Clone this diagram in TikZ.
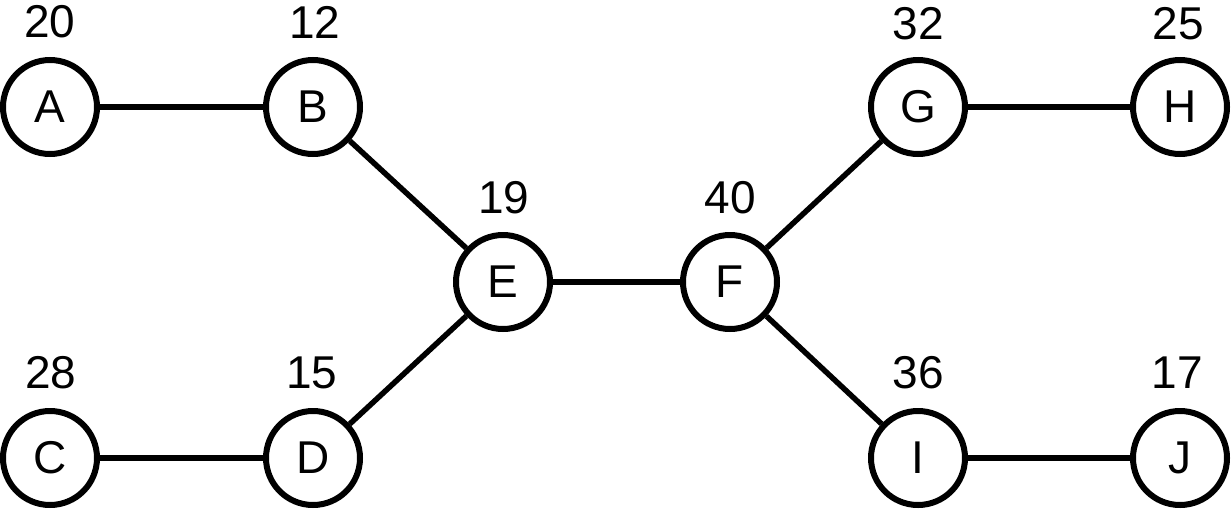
\documentclass[tikz,border=0pt]{standalone}
\usepackage{fontspec}
\setmainfont{Liberation Sans}
\begin{document}
\begin{tikzpicture}[x=1pt,y=-1pt,
  vert/.style={circle,draw,line width=6pt,minimum size=94pt,inner sep=0pt,font=\fontsize{46}{46}\selectfont},
  wlab/.style={inner sep=0pt,font=\fontsize{46}{46}\selectfont},
  edge/.style={line width=5.5pt}]
\useasboundingbox (0,0) rectangle (1232,512);
\node[vert] (A) at (50,107) {A};
\node[vert] (B) at (313,107) {B};
\node[vert] (C) at (50,458) {C};
\node[vert] (D) at (313,458) {D};
\node[vert] (E) at (503,282) {E};
\node[vert] (F) at (730,282) {F};
\node[vert] (G) at (918,107) {G};
\node[vert] (H) at (1180,107) {H};
\node[vert] (I) at (918,458) {I};
\node[vert] (J) at (1180,458) {J};
\node[wlab] (lA) at (50,22) {20};
\node[wlab] (lB) at (315,22) {12};
\node[wlab] (lC) at (51,373) {28};
\node[wlab] (lD) at (312,373) {15};
\node[wlab] (lE) at (504,198) {19};
\node[wlab] (lF) at (730,198) {40};
\node[wlab] (lG) at (918,24) {32};
\node[wlab] (lH) at (1178,24) {25};
\node[wlab] (lI) at (918,373) {36};
\node[wlab] (lJ) at (1177,373) {17};
\draw[edge] (A) -- (B);
\draw[edge] (B) -- (E);
\draw[edge] (C) -- (D);
\draw[edge] (D) -- (E);
\draw[edge] (E) -- (F);
\draw[edge] (F) -- (G);
\draw[edge] (F) -- (I);
\draw[edge] (G) -- (H);
\draw[edge] (I) -- (J);
\end{tikzpicture}
\end{document}
